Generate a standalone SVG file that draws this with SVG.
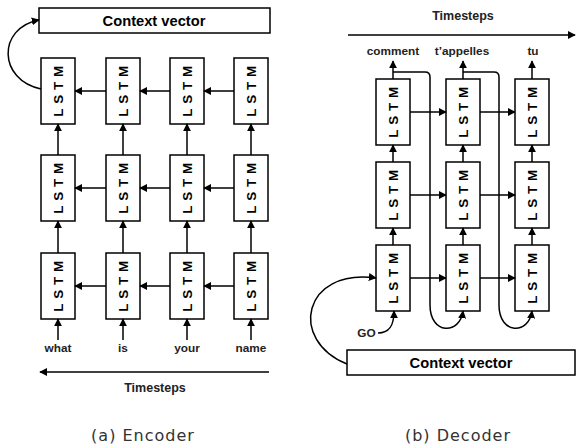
<svg xmlns="http://www.w3.org/2000/svg" width="576" height="448" viewBox="0 0 576 448">
<defs>
<marker id="ah" viewBox="0 0 10 10" refX="9" refY="5" markerWidth="8" markerHeight="8" markerUnits="userSpaceOnUse" orient="auto"><path d="M0 0 L10 5 L0 10 Z" fill="#000"/></marker>
</defs>
<style>
.box{fill:#fff;stroke:#000;stroke-width:1.5}
.ln{fill:none;stroke:#000;stroke-width:1.5}
.ar{fill:none;stroke:#000;stroke-width:1.5;marker-end:url(#ah)}
.lstm{font-family:"Liberation Sans",Arial,sans-serif;font-weight:bold;font-size:13.5px;letter-spacing:0.5px;text-anchor:middle}
.lab{font-family:"Liberation Sans",Arial,sans-serif;font-weight:bold;font-size:11.8px;text-anchor:middle;fill:#222}
.ts{font-family:"Liberation Sans",Arial,sans-serif;font-weight:bold;font-size:12.5px;text-anchor:middle;fill:#222}
.ctx{font-family:"Liberation Sans",Arial,sans-serif;font-weight:bold;font-size:14.7px;text-anchor:middle}
.cap{font-family:"DejaVu Sans",sans-serif;font-size:16px;letter-spacing:1px;text-anchor:middle;fill:#333}
</style>
<rect width="576" height="448" fill="#fff"/>

<!-- Encoder -->
<g id="enc-ctx"><rect class="box" x="39" y="8" width="231" height="25"/><text class="ctx" x="154" y="26">Context vector</text></g>
<g id="enc-lstm">
<g id="e11"><rect class="box" x="41" y="58" width="34" height="66"/><text class="lstm" transform="translate(63 91) rotate(-90)">L S T M</text></g>
<g id="e12"><rect class="box" x="106" y="58" width="34" height="66"/><text class="lstm" transform="translate(128 91) rotate(-90)">L S T M</text></g>
<g id="e13"><rect class="box" x="170" y="58" width="34" height="66"/><text class="lstm" transform="translate(192 91) rotate(-90)">L S T M</text></g>
<g id="e14"><rect class="box" x="234" y="58" width="34" height="66"/><text class="lstm" transform="translate(256 91) rotate(-90)">L S T M</text></g>
<g id="e21"><rect class="box" x="41" y="155" width="34" height="66"/><text class="lstm" transform="translate(63 188) rotate(-90)">L S T M</text></g>
<g id="e22"><rect class="box" x="106" y="155" width="34" height="66"/><text class="lstm" transform="translate(128 188) rotate(-90)">L S T M</text></g>
<g id="e23"><rect class="box" x="170" y="155" width="34" height="66"/><text class="lstm" transform="translate(192 188) rotate(-90)">L S T M</text></g>
<g id="e24"><rect class="box" x="234" y="155" width="34" height="66"/><text class="lstm" transform="translate(256 188) rotate(-90)">L S T M</text></g>
<g id="e31"><rect class="box" x="41" y="253" width="34" height="66"/><text class="lstm" transform="translate(63 286) rotate(-90)">L S T M</text></g>
<g id="e32"><rect class="box" x="106" y="253" width="34" height="66"/><text class="lstm" transform="translate(128 286) rotate(-90)">L S T M</text></g>
<g id="e33"><rect class="box" x="170" y="253" width="34" height="66"/><text class="lstm" transform="translate(192 286) rotate(-90)">L S T M</text></g>
<g id="e34"><rect class="box" x="234" y="253" width="34" height="66"/><text class="lstm" transform="translate(256 286) rotate(-90)">L S T M</text></g>
</g>
<g id="enc-labels">
<text class="lab" x="58" y="352">what</text>
<text class="lab" x="123" y="352">is</text>
<text class="lab" x="187" y="352">your</text>
<text class="lab" x="251" y="352">name</text>
<text class="ts" x="155" y="392">Timesteps</text>
<text class="cap" x="143" y="441">(a)  Encoder</text>
</g>
<g id="enc-connectors">
<path class="ar" d="M106 91 H75"/><path class="ar" d="M170 91 H140"/><path class="ar" d="M234 91 H204"/>
<path class="ar" d="M106 188 H75"/><path class="ar" d="M170 188 H140"/><path class="ar" d="M234 188 H204"/>
<path class="ar" d="M106 286 H75"/><path class="ar" d="M170 286 H140"/><path class="ar" d="M234 286 H204"/>
<path class="ar" d="M58 155 V124"/><path class="ar" d="M123 155 V124"/><path class="ar" d="M187 155 V124"/><path class="ar" d="M251 155 V124"/>
<path class="ar" d="M58 253 V221"/><path class="ar" d="M123 253 V221"/><path class="ar" d="M187 253 V221"/><path class="ar" d="M251 253 V221"/>
<path class="ar" d="M58 340 V319"/><path class="ar" d="M123 340 V319"/><path class="ar" d="M187 340 V319"/><path class="ar" d="M251 340 V319"/>
<path class="ar" d="M269 372 H40"/>
<path class="ar" d="M41 89 C-2 80, -3 28, 39 20"/>
</g>

<!-- Decoder -->
<g id="dec-ctx"><rect class="box" x="347" y="350" width="228" height="25"/><text class="ctx" x="461" y="367.5">Context vector</text></g>
<g id="dec-lstm">
<g id="d11"><rect class="box" x="376" y="79" width="34" height="66"/><text class="lstm" transform="translate(398 112) rotate(-90)">L S T M</text></g>
<g id="d12"><rect class="box" x="446" y="79" width="34" height="66"/><text class="lstm" transform="translate(468 112) rotate(-90)">L S T M</text></g>
<g id="d13"><rect class="box" x="515" y="79" width="34" height="66"/><text class="lstm" transform="translate(537 112) rotate(-90)">L S T M</text></g>
<g id="d21"><rect class="box" x="376" y="162" width="34" height="66"/><text class="lstm" transform="translate(398 195) rotate(-90)">L S T M</text></g>
<g id="d22"><rect class="box" x="446" y="162" width="34" height="66"/><text class="lstm" transform="translate(468 195) rotate(-90)">L S T M</text></g>
<g id="d23"><rect class="box" x="515" y="162" width="34" height="66"/><text class="lstm" transform="translate(537 195) rotate(-90)">L S T M</text></g>
<g id="d31"><rect class="box" x="376" y="245" width="34" height="66"/><text class="lstm" transform="translate(398 278) rotate(-90)">L S T M</text></g>
<g id="d32"><rect class="box" x="446" y="245" width="34" height="66"/><text class="lstm" transform="translate(468 278) rotate(-90)">L S T M</text></g>
<g id="d33"><rect class="box" x="515" y="245" width="34" height="66"/><text class="lstm" transform="translate(537 278) rotate(-90)">L S T M</text></g>
</g>
<g id="dec-labels">
<text class="ts" x="463" y="20">Timesteps</text>
<text class="lab" x="393" y="55">comment</text>
<text class="lab" x="462" y="55">t’appelles</text>
<text class="lab" x="533" y="55">tu</text>
<text class="lab" x="366.5" y="337">GO</text>
<text class="cap" x="458" y="441">(b)  Decoder</text>
</g>
<g id="dec-connectors">
<path class="ar" d="M348 35 H575"/>
<path class="ar" d="M393 79 V61"/><path class="ar" d="M463 79 V61"/><path class="ar" d="M532 79 V61"/>
<path class="ar" d="M393 72 H425 Q430 72 430 77 V305 C430 335, 460 335, 463 311"/>
<path class="ar" d="M463 72 H494 Q499 72 499 77 V305 C499 335, 529 335, 532 311"/>
<path class="ar" d="M410 112 H446"/><path class="ar" d="M480 112 H515"/>
<path class="ar" d="M410 195 H446"/><path class="ar" d="M480 195 H515"/>
<path class="ar" d="M410 278 H446"/><path class="ar" d="M480 278 H515"/>
<path class="ar" d="M393 162 V145"/><path class="ar" d="M463 162 V145"/><path class="ar" d="M532 162 V145"/>
<path class="ar" d="M393 245 V228"/><path class="ar" d="M463 245 V228"/><path class="ar" d="M532 245 V228"/>
<path class="ar" d="M378 333 C390 333, 394 325, 394 311"/>
<path class="ar" d="M347 364 C288 340, 303 268, 376 278"/>
</g>
</svg>
